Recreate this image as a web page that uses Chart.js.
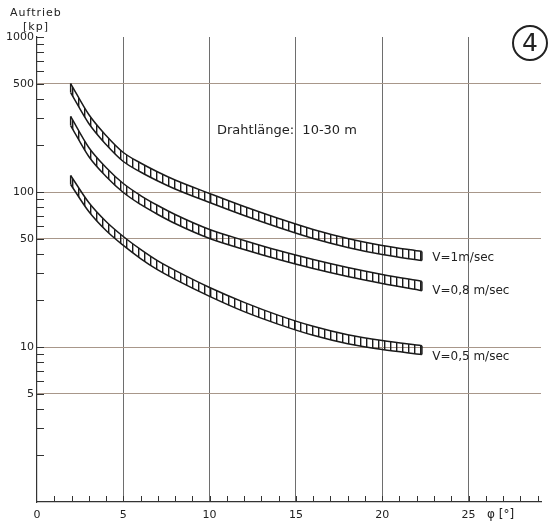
<!DOCTYPE html>
<html><head><meta charset="utf-8">
<script src="https://cdn.jsdelivr.net/npm/chart.js@4.4.1/dist/chart.umd.min.js"></script>
<style>html,body{margin:0;padding:0;background:#fff}#wrap{width:554px;height:526px;position:relative}</style>
</head><body><div id="wrap"><canvas id="c"></canvas></div>
<script>
// angle phi [deg]
const phi = [1.95,3,4,5,6,7,8,10,12,14,16,18,20,22.3];
// lift [kp], upper and lower edge of each band
const v1Upper  = [501,316.2,231.5,179.8,153.9,134.6,119.5,97.8,80.6,67.5,57.3,50.1,45.2,41.3];
const v1Lower  = [438,276.7,202.5,157.3,134.6,117.8,104.6,85.5,70.5,59.0,50.1,43.9,39.5,36.1];
const v08Upper = [307,193.7,143.9,113.4,94.9,81.8,71.6,57.3,48.7,41.9,36.7,32.6,29.4,26.5];
const v08Lower = [268.5,169.4,125.9,99.3,83.1,71.6,62.6,50.1,42.6,36.7,32.1,28.5,25.7,23.1];
const v05Upper = [127.8,85.5,64.5,51.6,42.6,35.9,31.2,24.2,19.4,16.0,13.6,12.0,11.0,10.2];
const v05Lower = [111.8,74.8,56.4,45.2,37.2,31.4,27.3,21.2,16.9,14.0,11.9,10.5,9.63,8.95];
const yTickValues = [1000,500,100,50,10,5];
const xTickValues = [0,5,10,15,20,25];
const seriesNames = ['V=1m/sec','V=0,8 m/sec','V=0,5 m/sec'];
// label anchors in data units (phi, lift)
const seriesLabelAnchor = [[22.9,37.5],[22.9,23],[22.9,8.6]];

function hatch(){
  const c=document.createElement('canvas'); c.width=6; c.height=8;
  const g=c.getContext('2d'); g.fillStyle='#1a1a1a'; g.fillRect(0,0,1.4,8);
  return g.createPattern(c,'repeat');
}
const pat = hatch();
const pts = (arr)=>phi.map((x,i)=>({x:x,y:arr[i]}));
const lineBase = {borderColor:'#1a1a1a',borderWidth:1.5,pointRadius:0,cubicInterpolationMode:'monotone'};
const datasets = [
  Object.assign({data:pts(v1Upper),fill:'+1',backgroundColor:pat},lineBase),
  Object.assign({data:pts(v1Lower),fill:false},lineBase),
  Object.assign({data:pts(v08Upper),fill:'+1',backgroundColor:pat},lineBase),
  Object.assign({data:pts(v08Lower),fill:false},lineBase),
  Object.assign({data:pts(v05Upper),fill:'+1',backgroundColor:pat},lineBase),
  Object.assign({data:pts(v05Lower),fill:false},lineBase)
];

const deco = {
  id:'deco',
  afterDraw(chart){
    const {ctx, scales:{x,y}, chartArea:a} = chart;
    ctx.save();
    ctx.strokeStyle='#333'; ctx.lineWidth=1;
    ctx.beginPath();
    for (let d=1; d<=1000; d*=10) for (let m=1;m<10;m++){
      const v=d*m; if(v<=1||v>1000) continue;
      const py=Math.round(y.getPixelForValue(v))+0.5;
      ctx.moveTo(a.left,py); ctx.lineTo(a.left+7,py);
    }
    for (let i=1;i<=29;i++){
      const px=Math.round(x.getPixelForValue(i))+0.5;
      ctx.moveTo(px,a.bottom); ctx.lineTo(px,a.bottom-6);
    }
    ctx.stroke();
    // band end caps, from the data
    ctx.strokeStyle='#1a1a1a'; ctx.lineWidth=1.5;
    ctx.beginPath();
    for (let k=0;k<6;k+=2){
      const up=chart.getDatasetMeta(k).data, lo=chart.getDatasetMeta(k+1).data;
      const n=up.length-1;
      ctx.moveTo(up[n].x,up[n].y); ctx.lineTo(lo[n].x,lo[n].y);
      ctx.moveTo(up[0].x,up[0].y); ctx.lineTo(lo[0].x,lo[0].y);
    }
    ctx.stroke();
    ctx.fillStyle='#222';
    ctx.textBaseline='middle'; ctx.textAlign='left';
    ctx.font='11px "DejaVu Sans"';
    ctx.letterSpacing='1px';
    ctx.fillText('Auftrieb',10,13);
    ctx.fillText('[kp]',23,27);
    ctx.letterSpacing='0px';
    ctx.font='12px "DejaVu Sans"';
    ctx.fillText('\u03C6 [\u00B0]',487,515);
    ctx.font='13px "DejaVu Sans"';
    ctx.fillText('Drahtl\u00E4nge:  10-30 m',217,131);
    ctx.font='12px "DejaVu Sans"';
    seriesNames.forEach((n,i)=>{
      const [vx,vy]=seriesLabelAnchor[i];
      ctx.fillText(n,x.getPixelForValue(vx),y.getPixelForValue(vy));
    });
    // circled number
    ctx.lineWidth=2; ctx.strokeStyle='#222';
    ctx.beginPath(); ctx.arc(530,43,17,0,Math.PI*2); ctx.stroke();
    ctx.textAlign='center'; ctx.font='25px "DejaVu Sans"';
    ctx.fillText('4',530,44);
    ctx.restore();
  }
};

new Chart(document.getElementById('c'),{
  type:'line',
  data:{datasets},
  plugins:[deco],
  options:{
    responsive:true, maintainAspectRatio:false, animation:false, devicePixelRatio:1,
    layout:{padding:{top:37,right:13,left:0,bottom:0}},
    plugins:{legend:{display:false},tooltip:{enabled:false}},
    scales:{
      x:{type:'linear',min:0,max:29.2,
        afterBuildTicks:(s)=>{s.ticks=xTickValues.map(v=>({value:v}));},
        afterFit:(s)=>{s.height=24;},
        ticks:{font:{family:'DejaVu Sans',size:11},color:'#222',padding:7,maxRotation:0,callback:(v)=>String(v)},
        grid:{drawTicks:false,color:(c)=>c.tick&&c.tick.value===0?'rgba(0,0,0,0)':'#6e6e6e',lineWidth:1},
        border:{display:true,color:'#333',width:1.2}
      },
      y:{type:'logarithmic',min:1,max:1000,
        afterBuildTicks:(s)=>{s.ticks=yTickValues.map(v=>({value:v}));},
        afterFit:(s)=>{s.width=37;},
        ticks:{font:{family:'DejaVu Sans',size:11},color:'#222',padding:3,callback:(v)=>String(v)},
        grid:{drawTicks:false,color:(c)=>c.tick&&c.tick.value===1000?'rgba(0,0,0,0)':'#a8978a',lineWidth:1},
        border:{display:true,color:'#333',width:1.2}
      }
    }
  }
});
</script>
</body></html>
